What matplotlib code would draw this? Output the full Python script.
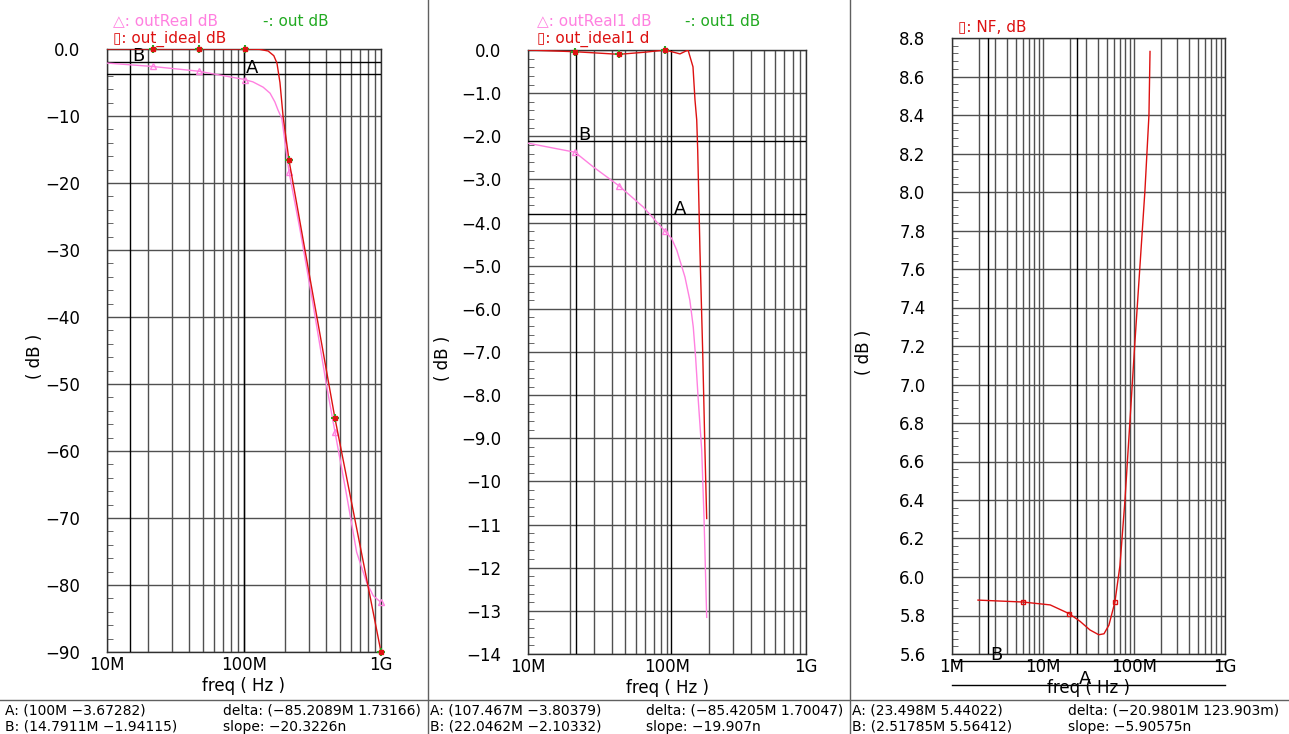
import matplotlib
matplotlib.use("Agg")
import matplotlib.pyplot as plt
from matplotlib.ticker import FixedLocator, LogLocator, MultipleLocator, NullFormatter
from matplotlib.lines import Line2D

# -------------------------------------------------
# Data
# -------------------------------------------------

# panel 1 : out_ideal dB / out dB / outReal dB
p1_ideal_freq = [10e6, 20e6, 50e6, 100e6, 130e6, 150e6, 165e6, 174e6, 183e6, 193e6,
                 213e6, 300e6, 461e6, 700e6, 1e9]
p1_ideal_db = [0.0, 0.0, 0.0, 0.0, -0.05, -0.3, -1.0, -2.1, -5.0, -10.1,
               -16.6, -33.7, -55.1, -73.9, -90.0]
p1_real_freq = [10e6, 21.3e6, 46e6, 98e6, 116e6, 138e6, 155e6, 168e6, 177e6, 189e6,
                213e6, 256e6, 321e6, 401e6, 461e6, 561e6, 664e6, 785e6, 877e6, 1e9]
p1_real_db = [-2.1, -2.6, -3.3, -4.5, -4.9, -5.7, -6.6, -7.9, -9.1, -10.4,
              -18.3, -26.9, -38.4, -50.3, -57.1, -66.6, -75.1, -79.6, -81.6, -82.6]
p1_mark_freq = [21.7e6, 46.9e6, 101.6e6, 213e6, 461e6, 1e9]
p1_mark_ideal = [0.0, 0.0, 0.0, -16.6, -55.1, -90.0]
p1_mark_real = [-2.6, -3.3, -4.6, -18.3, -57.1, -82.6]
p1_cursor = {"A": (100e6, -3.67282), "B": (14.7911e6, -1.94115)}
p1_yticks = [0, -10, -20, -30, -40, -50, -60, -70, -80, -90]
p1_ylabels = ["0.0", "−10", "−20", "−30", "−40", "−50", "−60", "−70", "−80", "−90"]

# panel 2 : out_ideal1 / out1 / outReal1 (dB), zoomed
p2_ideal_freq = [10e6, 21.8e6, 45.2e6, 70e6, 96.8e6, 124e6, 141.7e6, 153.8e6,
                 159e6, 163.6e6, 166.3e6, 172.6e6, 180.5e6, 187.5e6, 193e6]
p2_ideal_db = [0.0, -0.04, -0.1, -0.05, 0.0, -0.09, 0.0, -0.39,
               -1.16, -1.62, -2.32, -4.64, -6.96, -9.28, -10.86]
p2_real_freq = [10e6, 21.8e6, 29.5e6, 45.2e6, 67.5e6, 96.8e6, 108e6, 117.6e6,
                134.6e6, 146e6, 154.5e6, 160.6e6, 167.9e6, 177.7e6, 184.6e6, 193e6]
p2_real_db = [-2.16, -2.37, -2.71, -3.15, -3.64, -4.2, -4.37, -4.64,
              -5.26, -5.8, -6.42, -7.12, -8.12, -9.28, -10.83, -13.15]
p2_mark_freq = [21.8e6, 45.2e6, 96.8e6]
p2_mark_ideal = [-0.04, -0.1, 0.0]
p2_mark_real = [-2.37, -3.15, -4.2]
p2_cursor = {"A": (107.467e6, -3.80379), "B": (22.0462e6, -2.10332)}
p2_yticks = [0, -1, -2, -3, -4, -5, -6, -7, -8, -9, -10, -11, -12, -13, -14]
p2_ylabels = ["0.0", "−1.0", "−2.0", "−3.0", "−4.0", "−5.0", "−6.0", "−7.0",
              "−8.0", "−9.0", "−10", "−11", "−12", "−13", "−14"]

# panel 3 : NF, dB
p3_freq = [1.93e6, 6.0e6, 12e6, 19.3e6, 25.5e6, 32.8e6, 41e6, 46.8e6, 53e6, 61.7e6,
           70.1e6, 79.6e6, 102e6, 132e6, 146e6, 150e6]
p3_nf = [5.88, 5.87, 5.855, 5.81, 5.77, 5.725, 5.70, 5.705, 5.75, 5.87,
         6.06, 6.40, 7.21, 8.01, 8.40, 8.73]
p3_mark_freq = [6.0e6, 19.3e6, 61.7e6]
p3_mark_nf = [5.87, 5.81, 5.87]
p3_cursor = {"A": (23.498e6, 5.44022), "B": (2.51785e6, 5.56412)}
p3_yticks = [5.6, 5.8, 6.0, 6.2, 6.4, 6.6, 6.8, 7.0, 7.2, 7.4, 7.6, 7.8, 8.0,
             8.2, 8.4, 8.6, 8.8]
p3_ylabels = ["%.1f" % v for v in p3_yticks]

# cursor readouts under each panel
readouts = [
    ("A: (100M −3.67282)", "B: (14.7911M −1.94115)",
     "delta: (−85.2089M 1.73166)", "slope: −20.3226n"),
    ("A: (107.467M −3.80379)", "B: (22.0462M −2.10332)",
     "delta: (−85.4205M 1.70047)", "slope: −19.907n"),
    ("A: (23.498M 5.44022)", "B: (2.51785M 5.56412)",
     "delta: (−20.9801M 123.903m)", "slope: −5.90575n"),
]

# -------------------------------------------------
# Style
# -------------------------------------------------

W, H = 1289, 734
PINK = "#ff80e0"
RED = "#dd1111"
GREEN = "#22aa22"
GRID = "#505050"
FS = 11

plt.rcParams["font.family"] = ["DejaVu Sans"]


def px_box(l, t, r, b):
    return [l / W, 1 - b / H, (r - l) / W, (b - t) / H]


def setup_axis(ax, xlim, xticks, xlabels, ylim, yticks, ylabels, yminor, ylab_x):
    ax.set_xscale("log")
    ax.set_xlim(*xlim)
    ax.set_ylim(*ylim)
    ax.xaxis.set_major_locator(FixedLocator(xticks))
    ax.set_xticklabels(xlabels, fontsize=FS + 1)
    ax.xaxis.set_minor_locator(LogLocator(base=10, subs=range(2, 10)))
    ax.xaxis.set_minor_formatter(NullFormatter())
    ax.set_yticks(yticks)
    ax.set_yticklabels(ylabels, fontsize=FS + 1)
    ax.yaxis.set_minor_locator(MultipleLocator(yminor))
    ax.tick_params(axis="x", which="both", length=0, pad=3)
    ax.tick_params(axis="y", which="major", length=0, pad=19)
    ax.tick_params(axis="y", which="minor", length=4, direction="in", color=GRID)
    ax.grid(True, which="major", axis="both", color=GRID, lw=1.0)
    ax.grid(True, which="minor", axis="x", color=GRID, lw=1.0)
    for s in ax.spines.values():
        s.set_color("#303030")
        s.set_linewidth(1.0)
    ax.set_xlabel("freq ( Hz )", fontsize=FS + 1, labelpad=2)
    ax.set_ylabel("( dB )", fontsize=FS + 1)
    ax.yaxis.set_label_coords(ylab_x, 0.49)


def cursors(ax, cur, clip=True):
    for name, (f, v) in cur.items():
        ax.axvline(f, color="black", lw=1.0, zorder=3)
        ax.axhline(v, color="black", lw=1.0, zorder=3, clip_on=clip)
        ax.annotate(name, (f, v), xytext=(1.5, 4), textcoords="offset points",
                    fontsize=FS + 2, ha="left", va="center", annotation_clip=False)


fig = plt.figure(figsize=(W / 100, H / 100), dpi=100)

# ---------------- panel 1 ----------------
ax1 = fig.add_axes(px_box(107, 49, 381, 652))
setup_axis(ax1, (1e7, 1e9), [1e7, 1e8, 1e9], ["10M", "100M", "1G"],
           (-90, 0), p1_yticks, p1_ylabels, 2, -0.23)
cursors(ax1, p1_cursor)
ax1.plot(p1_real_freq, p1_real_db, color=PINK, lw=1.0, zorder=4)
ax1.plot(p1_mark_freq, p1_mark_real, ls="none", marker="^", ms=5, mfc="none",
         mec=PINK, mew=1.0, zorder=5, clip_on=False)
ax1.plot(p1_ideal_freq, p1_ideal_db, color=RED, lw=1.0, zorder=5)
ax1.plot(p1_mark_freq, p1_mark_ideal, ls="none", marker="+", ms=6, color=GREEN,
         mew=1.5, zorder=6, clip_on=False)
ax1.plot(p1_mark_freq, p1_mark_ideal, ls="none", marker="s", ms=3, mfc=RED,
         mec=RED, zorder=7, clip_on=False)

# ---------------- panel 2 ----------------
ax2 = fig.add_axes(px_box(528, 50, 806, 654))
setup_axis(ax2, (1e7, 1e9), [1e7, 1e8, 1e9], ["10M", "100M", "1G"],
           (-14, 0), p2_yticks, p2_ylabels, 0.2, -0.273)
cursors(ax2, p2_cursor)
ax2.plot(p2_real_freq, p2_real_db, color=PINK, lw=1.0, zorder=4)
ax2.plot(p2_mark_freq, p2_mark_real, ls="none", marker="^", ms=5, mfc="none",
         mec=PINK, mew=1.0, zorder=5)
ax2.plot(p2_ideal_freq, p2_ideal_db, color=RED, lw=1.0, zorder=5)
ax2.plot(p2_mark_freq, p2_mark_ideal, ls="none", marker="+", ms=6, color=GREEN,
         mew=1.5, zorder=6, clip_on=False)
ax2.plot(p2_mark_freq, p2_mark_ideal, ls="none", marker="s", ms=3, mfc=RED,
         mec=RED, zorder=7, clip_on=False)

# ---------------- panel 3 ----------------
ax3 = fig.add_axes(px_box(952, 38, 1225, 654))
setup_axis(ax3, (1e6, 1e9), [1e6, 1e7, 1e8, 1e9], ["1M", "10M", "100M", "1G"],
           (5.6, 8.8), p3_yticks, p3_ylabels, 0.04, -0.29)
cursors(ax3, p3_cursor, clip=False)
ax3.plot(p3_freq, p3_nf, color=RED, lw=1.0, zorder=5)
ax3.plot(p3_mark_freq, p3_mark_nf, ls="none", marker="s", ms=3.5, mfc="none",
         mec=RED, mew=1.0, zorder=6)

# ---------------- legends ----------------
def ftext(x, y, s, color, size=FS, **kw):
    fig.text(x / W, 1 - y / H, s, color=color, fontsize=size, va="center", **kw)

ftext(113, 21, "△: outReal dB", PINK)
ftext(263, 21, "-: out dB", GREEN)
ftext(113, 39, "▯: out_ideal dB", RED)
ftext(537, 21, "△: outReal1 dB", PINK)
ftext(685, 21, "-: out1 dB", GREEN)
ftext(537, 39, "▯: out_ideal1 d", RED)
ftext(958, 27, "▯: NF, dB", RED)

# ---------------- readouts ----------------
for (a, b, d, s), x0, x1 in zip(readouts, [5, 430, 852], [223, 646, 1068]):
    ftext(x0, 710, a, "black", size=10)
    ftext(x0, 727, b, "black", size=10)
    ftext(x1, 710, d, "black", size=10)
    ftext(x1, 727, s, "black", size=10)

# panel separators
for xs in [428, 850]:
    fig.add_artist(Line2D([xs / W, xs / W], [0, 1], transform=fig.transFigure,
                          color="#606060", lw=1.0))
fig.add_artist(Line2D([0, 1], [1 - 700 / H, 1 - 700 / H], transform=fig.transFigure,
                      color="#606060", lw=1.0))

fig.savefig("out.png", dpi=100, facecolor="white")
